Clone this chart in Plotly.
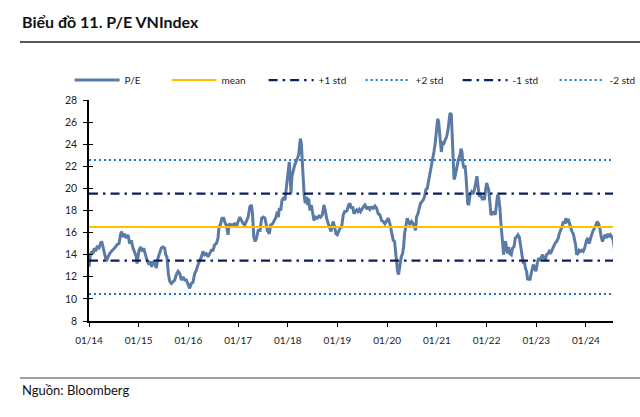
import pandas as pd
import plotly.graph_objects as go

# ---- data ----
# time in decimal years, P/E values
years = [
    2014.000, 2014.027, 2014.060, 2014.081, 2014.107, 2014.134, 2014.161, 2014.201, 2014.228, 2014.255,
    2014.282, 2014.315, 2014.349, 2014.383, 2014.416, 2014.470, 2014.517, 2014.564, 2014.604, 2014.638,
    2014.658, 2014.685, 2014.718, 2014.752, 2014.785, 2014.819, 2014.852, 2014.886, 2014.919, 2014.953,
    2014.966, 2015.007, 2015.040, 2015.074, 2015.101, 2015.141, 2015.168, 2015.208, 2015.235, 2015.262,
    2015.289, 2015.322, 2015.356, 2015.389, 2015.423, 2015.456, 2015.490, 2015.523, 2015.544, 2015.570,
    2015.597, 2015.624, 2015.658, 2015.691, 2015.725, 2015.758, 2015.792, 2015.826, 2015.859, 2015.893,
    2015.926, 2015.960, 2015.993, 2016.027, 2016.060, 2016.094, 2016.128, 2016.161, 2016.195, 2016.228,
    2016.262, 2016.295, 2016.329, 2016.362, 2016.396, 2016.430, 2016.463, 2016.497, 2016.530, 2016.564,
    2016.597, 2016.617, 2016.644, 2016.678, 2016.711, 2016.745, 2016.765, 2016.799, 2016.819, 2016.846,
    2016.886, 2016.933, 2016.966, 2017.000, 2017.034, 2017.067, 2017.101, 2017.134, 2017.168, 2017.201,
    2017.235, 2017.268, 2017.289, 2017.315, 2017.342, 2017.369, 2017.403, 2017.440, 2017.474, 2017.507,
    2017.541, 2017.561, 2017.588, 2017.628, 2017.655, 2017.695, 2017.722, 2017.762, 2017.789, 2017.809,
    2017.829, 2017.856, 2017.883, 2017.909, 2017.943, 2017.963, 2017.990, 2018.010, 2018.030, 2018.044,
    2018.064, 2018.084, 2018.111, 2018.138, 2018.164, 2018.191, 2018.218, 2018.231, 2018.252, 2018.272,
    2018.292, 2018.312, 2018.332, 2018.352, 2018.379, 2018.399, 2018.419, 2018.446, 2018.473, 2018.500,
    2018.527, 2018.560, 2018.594, 2018.627, 2018.661, 2018.694, 2018.728, 2018.755, 2018.781, 2018.815,
    2018.848, 2018.869, 2018.895, 2018.915, 2018.942, 2018.969, 2018.996, 2019.023, 2019.050, 2019.083,
    2019.117, 2019.144, 2019.170, 2019.197, 2019.224, 2019.251, 2019.278, 2019.305, 2019.331, 2019.358,
    2019.385, 2019.412, 2019.439, 2019.465, 2019.492, 2019.519, 2019.553, 2019.573, 2019.600, 2019.626,
    2019.653, 2019.687, 2019.720, 2019.754, 2019.787, 2019.821, 2019.855, 2019.888, 2019.922, 2019.955,
    2019.989, 2020.022, 2020.056, 2020.089, 2020.123, 2020.150, 2020.176, 2020.190, 2020.210, 2020.230,
    2020.257, 2020.284, 2020.311, 2020.331, 2020.351, 2020.378, 2020.404, 2020.431, 2020.458, 2020.492,
    2020.525, 2020.552, 2020.572, 2020.592, 2020.619, 2020.646, 2020.673, 2020.700, 2020.726, 2020.753,
    2020.780, 2020.807, 2020.834, 2020.861, 2020.887, 2020.914, 2020.941, 2020.968, 2020.995, 2021.015,
    2021.035, 2021.062, 2021.089, 2021.115, 2021.142, 2021.169, 2021.196, 2021.223, 2021.243, 2021.263,
    2021.290, 2021.310, 2021.330, 2021.344, 2021.371, 2021.397, 2021.431, 2021.464, 2021.485, 2021.505,
    2021.518, 2021.545, 2021.565, 2021.585, 2021.599, 2021.619, 2021.639, 2021.666, 2021.699, 2021.733,
    2021.760, 2021.786, 2021.806, 2021.827, 2021.853, 2021.880, 2021.907, 2021.934, 2021.954, 2021.974,
    2022.001, 2022.021, 2022.041, 2022.068, 2022.088, 2022.115, 2022.149, 2022.175, 2022.202, 2022.222,
    2022.242, 2022.269, 2022.289, 2022.309, 2022.330, 2022.343, 2022.363, 2022.383, 2022.403, 2022.423,
    2022.444, 2022.470, 2022.497, 2022.524, 2022.551, 2022.578, 2022.605, 2022.631, 2022.658, 2022.685,
    2022.712, 2022.739, 2022.759, 2022.779, 2022.806, 2022.826, 2022.846, 2022.873, 2022.893, 2022.913,
    2022.940, 2022.967, 2022.994, 2023.020, 2023.047, 2023.074, 2023.101, 2023.128, 2023.155, 2023.181,
    2023.208, 2023.235, 2023.262, 2023.289, 2023.315, 2023.342, 2023.376, 2023.410, 2023.443, 2023.463,
    2023.490, 2023.517, 2023.544, 2023.570, 2023.597, 2023.624, 2023.651, 2023.678, 2023.698, 2023.718,
    2023.745, 2023.772, 2023.792, 2023.812, 2023.839, 2023.865, 2023.892, 2023.919, 2023.946, 2023.973,
    2023.993, 2024.013, 2024.040, 2024.067, 2024.094, 2024.120, 2024.147, 2024.174, 2024.201, 2024.228,
    2024.255, 2024.281, 2024.308, 2024.335, 2024.362, 2024.389, 2024.415, 2024.442, 2024.469, 2024.496,
    2024.523, 2024.550, 2024.576,
]
pe = [
    12.9, 14.0, 14.3, 14.1, 14.6, 14.3, 14.7, 14.6, 15.0, 15.2,
    14.7, 14.0, 13.4, 13.8, 14.1, 14.4, 14.6, 14.9, 15.0, 15.9,
    16.1, 15.6, 15.9, 15.5, 15.8, 15.0, 15.3, 14.6, 14.1, 13.8,
    13.2, 14.4, 14.7, 14.3, 14.6, 13.8, 13.5, 13.1, 13.4, 12.9,
    13.4, 13.2, 12.8, 13.7, 14.1, 14.6, 14.7, 14.6, 14.0, 13.8,
    12.3, 11.6, 11.4, 11.6, 11.7, 12.2, 12.5, 12.3, 11.7, 12.0,
    11.7, 11.7, 11.4, 10.95, 11.4, 11.5, 12.3, 12.6, 13.1, 13.4,
    13.8, 14.3, 14.0, 14.1, 13.8, 14.1, 14.4, 14.4, 14.9, 15.0,
    15.5, 16.5, 16.7, 17.3, 17.3, 16.8, 16.7, 15.8, 16.8, 16.7,
    16.7, 16.8, 16.5, 17.0, 17.4, 17.1, 16.8, 16.7, 17.0, 17.4,
    18.35, 18.5, 17.7, 15.6, 15.2, 15.5, 16.2, 16.2, 17.3, 17.4,
    17.3, 16.8, 16.2, 15.9, 16.7, 16.8, 17.0, 17.4, 17.9, 17.4,
    18.2, 18.0, 18.95, 19.1, 18.95, 19.7, 20.8, 21.4, 22.4, 21.4,
    19.6, 21.1, 21.7, 22.1, 22.4, 22.7, 23.0, 23.6, 24.5, 24.1,
    22.9, 20.8, 19.25, 18.65, 19.25, 18.5, 19.1, 18.0, 18.5, 17.6,
    17.1, 17.4, 17.3, 17.5, 17.4, 17.6, 18.5, 18.0, 17.3, 16.8,
    16.2, 16.1, 16.7, 17.0, 16.5, 15.9, 15.8, 16.1, 16.4, 16.5,
    17.6, 17.9, 17.9, 18.05, 18.5, 18.65, 18.2, 18.35, 17.7, 17.9,
    18.05, 17.9, 18.1, 17.9, 18.05, 18.3, 18.5, 18.35, 18.1, 18.35,
    18.1, 18.3, 18.2, 18.4, 18.2, 17.7, 17.6, 17.1, 17.0, 16.8,
    17.0, 17.3, 16.8, 16.2, 15.3, 15.2, 14.1, 13.2, 12.5, 12.2,
    13.2, 13.8, 14.1, 14.7, 15.9, 16.7, 17.3, 17.0, 16.7, 17.0,
    16.8, 16.5, 16.2, 17.4, 17.7, 18.2, 18.65, 18.8, 18.95, 19.25,
    19.9, 20.0, 20.6, 21.5, 22.1, 22.7, 23.3, 24.1, 25.4, 26.3,
    26.0, 24.5, 23.3, 24.2, 24.1, 24.4, 24.7, 25.3, 26.3, 26.8,
    26.7, 24.4, 20.8, 20.8, 21.2, 21.8, 22.6, 23.0, 23.6, 23.3,
    22.4, 21.8, 22.1, 21.1, 19.9, 18.65, 18.5, 19.4, 19.7, 19.5,
    20.0, 20.8, 21.1, 20.2, 19.25, 19.4, 19.1, 19.25, 18.95, 19.7,
    20.5, 20.2, 19.9, 18.65, 17.6, 17.7, 17.9, 17.6, 18.5, 19.4,
    19.25, 18.2, 16.8, 15.6, 14.6, 14.0, 15.0, 15.2, 14.6, 14.1,
    14.7, 14.1, 14.0, 14.6, 14.7, 15.5, 15.6, 15.8, 15.6, 14.7,
    14.0, 13.2, 13.4, 12.8, 12.5, 11.7, 11.9, 11.7, 12.2, 12.6,
    13.1, 12.8, 12.5, 13.2, 13.7, 13.5, 13.8, 14.0, 13.7, 13.5,
    14.0, 14.1, 14.3, 14.1, 14.4, 14.7, 15.0, 15.2, 15.5, 15.9,
    16.2, 16.5, 17.0, 16.8, 17.3, 17.0, 17.1, 16.7, 16.2, 16.1,
    15.9, 15.3, 14.9, 14.0, 14.1, 14.4, 14.3, 14.4, 14.3, 14.6,
    15.0, 15.3, 15.5, 15.0, 15.5, 15.9, 16.2, 16.4, 16.7, 17.0,
    16.8, 16.4, 15.6, 15.2, 15.6, 15.8, 15.5, 15.9, 15.6, 15.8,
    15.6, 15.3, 14.4,
]

pe_mean = 16.5
pe_std = 3.03

band_names = ["+1 std", "+2 std", "-1 std", "-2 std"]
band_k = [1, 2, -1, -2]

title_text = "Biểu đồ 11. P/E VNIndex"
source_text = "Nguồn: Bloomberg"


def to_date(y):
    yr = int(y)
    return pd.Timestamp(yr, 1, 1) + pd.Timedelta(days=(y - yr) * 365.25)


dates = [to_date(y) for y in years]
x_span = [dates[0], dates[-1]]

FONT = "Lato, 'Open Sans', sans-serif"
PE_COLOR = "#5b7ba6"
MEAN_COLOR = "#ffc000"
STD1_COLOR = "#0b1f5c"
STD2_COLOR = "#1b78c8"

fig = go.Figure()

fig.add_trace(go.Scatter(x=dates, y=pe, mode="lines", name="P/E",
                         line=dict(color=PE_COLOR, width=3)))
fig.add_trace(go.Scatter(x=x_span, y=[pe_mean, pe_mean], mode="lines", name="mean",
                         line=dict(color=MEAN_COLOR, width=2)))

for nm, k in zip(band_names, band_k):
    lvl = pe_mean + k * pe_std
    if abs(k) == 1:
        ln = dict(color=STD1_COLOR, width=2.2, dash="9px,5px,2.5px,5px")
    else:
        ln = dict(color=STD2_COLOR, width=2, dash="2px,3px")
    fig.add_trace(go.Scatter(x=x_span, y=[lvl, lvl], mode="lines", name=nm, line=ln))

# invisible helper trace on the overlay axis so its inside ticks are drawn (cross ticks)
fig.add_trace(go.Scatter(x=x_span, y=[pe_mean, pe_mean], yaxis="y2", mode="lines",
                         line=dict(width=0, color="rgba(0,0,0,0)"), showlegend=False,
                         hoverinfo="skip"))

fig.update_layout(
    width=640, height=417,
    margin=dict(l=89, r=27, t=100, b=96, autoexpand=False),
    paper_bgcolor="white", plot_bgcolor="white",
    font=dict(family=FONT, size=11, color="#222"),
    showlegend=True,
    legend=dict(orientation="h", x=-0.037, y=1.09, xanchor="left", yanchor="middle",
                font=dict(size=10, color="#222"), itemwidth=45,
                entrywidth=37, entrywidthmode="pixels",
                bgcolor="rgba(0,0,0,0)", traceorder="normal"),
    xaxis=dict(type="date", range=[dates[0], to_date(2024.545)],
               tickformat="%m/%y", dtick="M12", tick0="2014-01-01",
               showline=True, linecolor="black", linewidth=1.5,
               ticks="outside", ticklen=4, tickcolor="black", ticklabelstandoff=5,
               showgrid=False, zeroline=False,
               tickfont=dict(size=10, color="#222")),
    yaxis=dict(range=[8, 28], dtick=2, showline=True, linecolor="black", linewidth=1.5,
               ticks="outside", ticklen=4, tickcolor="black", ticklabelstandoff=4,
               showgrid=False, zeroline=False,
               tickfont=dict(size=10.5, color="#222")),
    yaxis2=dict(range=[8, 28], dtick=2, overlaying="y", side="left", showline=False,
                ticks="inside", ticklen=4, tickcolor="black", showticklabels=False,
                showgrid=False, zeroline=False),
    annotations=[
        dict(text="<b>" + title_text + "</b>", xref="paper", yref="paper",
             x=-0.1317, y=1.302, xanchor="left", yanchor="bottom", showarrow=False,
             font=dict(size=16, color="#111")),
        dict(text=source_text, xref="paper", yref="paper",
             x=-0.1317, y=-0.268, xanchor="left", yanchor="top", showarrow=False,
             font=dict(size=13, color="#111")),
    ],
    shapes=[
        dict(type="line", xref="paper", yref="paper", x0=-0.1317, x1=1.06, y0=1.262, y1=1.262,
             line=dict(color="#222", width=1.5)),
        dict(type="line", xref="paper", yref="paper", x0=-0.1317, x1=1.06, y0=-0.258, y1=-0.258,
             line=dict(color="#444", width=1.2)),
    ],
)

fig.write_html("out.html", config={"displayModeBar": False},
               post_script="document.body.style.margin='0';")
